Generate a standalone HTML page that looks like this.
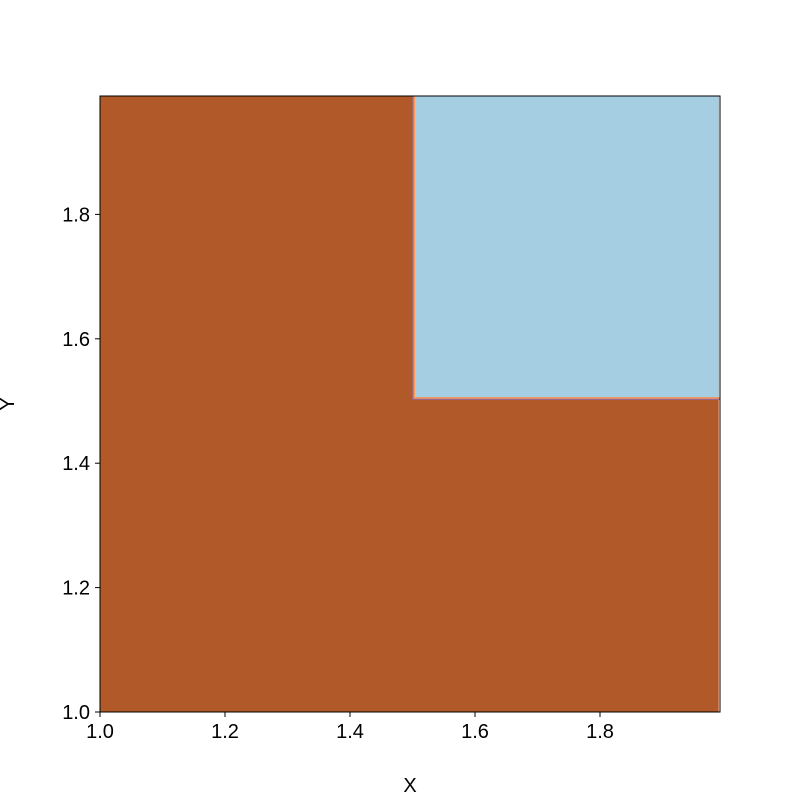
<!DOCTYPE html>
<html><head><meta charset="utf-8"><style>
body{margin:0;background:#fff;}
text{font-family:"Liberation Sans","DejaVu Sans",sans-serif;}
</style></head><body>
<svg id="chart" width="800" height="800" xmlns="http://www.w3.org/2000/svg">
<g id="plot"></g>
<g id="axes"></g>
</svg>
<script>
const xDomain = [1.0, 1.99];
const yDomain = [1.0, 1.99];
const regionX0 = [1.0, 1.504];
const regionX1 = [1.99, 1.99];
const regionY0 = [1.0, 1.506];
const regionY1 = [1.99, 1.99];
const regionColors = ['#b15928', '#a6cee3'];
const regionNames = ['region-class-0', 'region-class-1'];
const xTicks = [1.0, 1.2, 1.4, 1.6, 1.8];
const yTicks = [1.0, 1.2, 1.4, 1.6, 1.8];

const L=100,R=720,T=96,B=712;
const sx=v=>L+(v-1.0)/(0.992)*(R-L)*0.992/0.99*0.99/0.992*(0.992/0.99)*(0.99/0.992)*0+L*0+ (v-1.0)*625;
const sy=v=>B-(v-1.0)*622;
const NS='http://www.w3.org/2000/svg';
function mk(tag,attrs,parent){const e=document.createElementNS(NS,tag);for(const k in attrs)e.setAttribute(k,attrs[k]);parent.appendChild(e);return e;}
const plot=document.getElementById('plot'), axes=document.getElementById('axes');
for(let i=0;i<regionX0.length;i++){
  const x0=Math.max(L,sx(regionX0[i])), x1=Math.min(R,sx(regionX1[i]));
  const y1=Math.max(T,sy(regionY1[i])), y0=Math.min(B,sy(regionY0[i]));
  const r=mk('rect',{x:x0,y:y1,width:x1-x0,height:y0-y1,fill:regionColors[i]},plot);
  
  
  if(i>0){
    const bx=sx(regionX0[i]), by=sy(regionY0[i]);
    const e=mk('polyline',{points:`${bx-1},${T} ${bx-1},${by+1} ${R},${by+1}`,fill:'none',stroke:'#fb9a55','stroke-width':2},plot);
    
    
    const e2=mk('polyline',{points:`${bx-2},${T} ${bx-2},${by+2} ${R},${by+2}`,fill:'none',stroke:'#8e6bb0','stroke-width':1},plot);
    
    
  }
}
const frame=mk('rect',{x:L,y:T,width:R-L,height:B-T,fill:'none',stroke:'#000','stroke-width':1},axes);


xTicks.forEach(t=>{
  const x=sx(t);
  const tk=mk('line',{x1:x,y1:B,x2:x,y2:B+5,stroke:'#000'},axes);
  
  
  const lb=mk('text',{x:x,y:B+26,'text-anchor':'middle','font-size':20},axes);
  lb.textContent=t.toFixed(1);
  
  
});
yTicks.forEach(t=>{
  const y=sy(t);
  const tk=mk('line',{x1:L-5,y1:y,x2:L,y2:y,stroke:'#000'},axes);
  
  
  const lb=mk('text',{x:L-10,y:y+7,'text-anchor':'end','font-size':20},axes);
  lb.textContent=t.toFixed(1);
  
  
});
const xt=mk('text',{x:410,y:792,'text-anchor':'middle','font-size':20},axes);
xt.textContent='X';


const yt=mk('text',{x:0,y:0,'text-anchor':'middle','font-size':20,transform:'translate(14,404) rotate(-90)'},axes);
yt.textContent='Y';


</script>
</body></html>
